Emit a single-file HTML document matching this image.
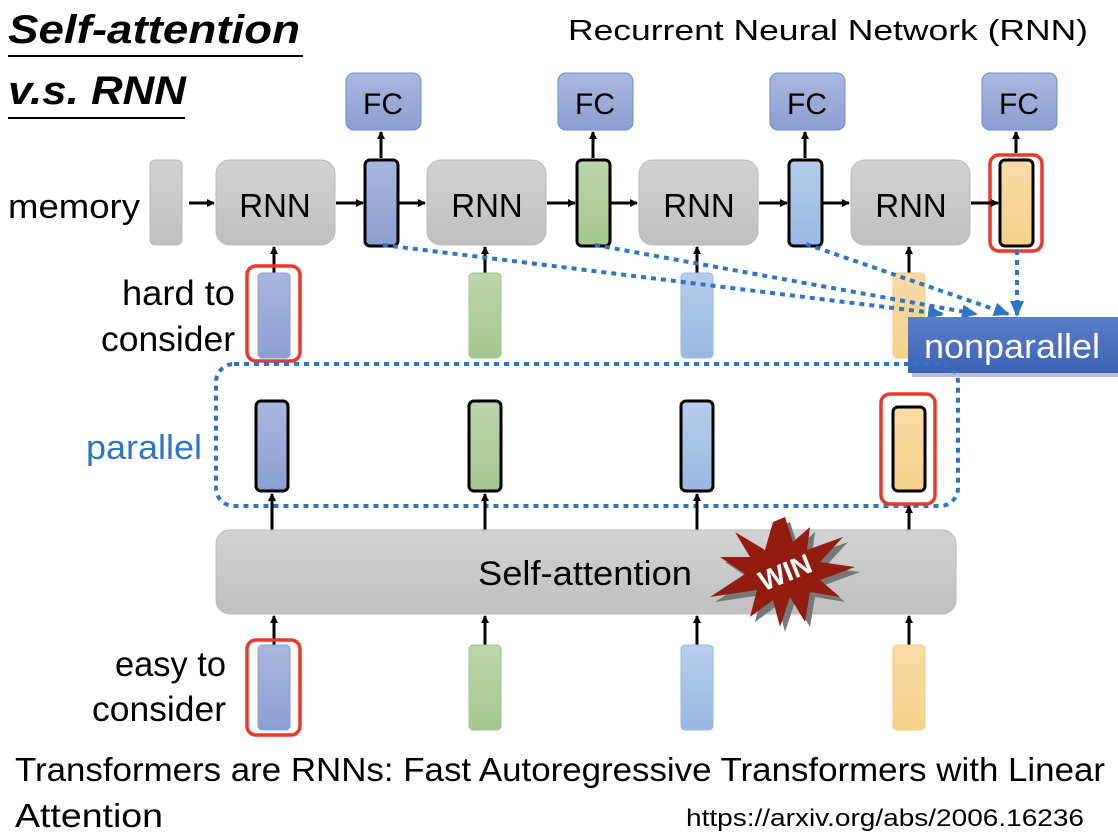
<!DOCTYPE html>
<html><head><meta charset="utf-8"><style>
html,body{margin:0;padding:0;background:#fff;}
svg{display:block;font-family:"Liberation Sans",sans-serif;}
</style></head><body>
<svg width="1118" height="836" viewBox="0 0 1118 836" xmlns="http://www.w3.org/2000/svg">
<defs>
<linearGradient id="gray" x1="0" y1="0" x2="0" y2="1"><stop offset="0" stop-color="#d2d2d2"/><stop offset="1" stop-color="#c0c0c0"/></linearGradient>
<linearGradient id="blue" x1="0" y1="0" x2="0" y2="1"><stop offset="0" stop-color="#a9b7de"/><stop offset="1" stop-color="#8a9fd2"/></linearGradient>
<linearGradient id="green" x1="0" y1="0" x2="0" y2="1"><stop offset="0" stop-color="#bcd6ab"/><stop offset="1" stop-color="#a3c78d"/></linearGradient>
<linearGradient id="lblue" x1="0" y1="0" x2="0" y2="1"><stop offset="0" stop-color="#b6cdea"/><stop offset="1" stop-color="#98b9e2"/></linearGradient>
<linearGradient id="orange" x1="0" y1="0" x2="0" y2="1"><stop offset="0" stop-color="#f8dba6"/><stop offset="1" stop-color="#f6d28a"/></linearGradient>
<linearGradient id="np" x1="0" y1="0" x2="0" y2="1"><stop offset="0" stop-color="#5a7ec8"/><stop offset="1" stop-color="#3d62b4"/></linearGradient>
<marker id="ah" markerWidth="8" markerHeight="8" refX="7" refY="4" orient="auto" markerUnits="userSpaceOnUse"><path d="M0,0 L8,4 L0,8 z" fill="#000"/></marker>
<marker id="bh" markerWidth="16" markerHeight="14" refX="14" refY="7" orient="auto" markerUnits="userSpaceOnUse"><path d="M0,0 L16,7 L0,14 z" fill="#2e75c6"/></marker>
</defs>

<text x="8" y="43" font-size="40" font-weight="bold" font-style="italic" textLength="292" lengthAdjust="spacingAndGlyphs">Self-attention</text>
<line x1="8" y1="56" x2="303" y2="56" stroke="#000" stroke-width="2"/>
<text x="8" y="104" font-size="40" font-weight="bold" font-style="italic" textLength="178" lengthAdjust="spacingAndGlyphs">v.s. RNN</text>
<line x1="8" y1="118" x2="185" y2="118" stroke="#000" stroke-width="2"/>
<text x="568" y="40" font-size="29" textLength="520" lengthAdjust="spacingAndGlyphs">Recurrent Neural Network (RNN)</text>

<g font-size="30" text-anchor="middle">
<rect x="346" y="73" width="75" height="57" rx="8" fill="url(#blue)" stroke="#6e8bd0"/><text x="383" y="114">FC</text>
<rect x="558" y="73" width="75" height="57" rx="8" fill="url(#blue)" stroke="#6e8bd0"/><text x="595" y="114">FC</text>
<rect x="770" y="73" width="75" height="57" rx="8" fill="url(#blue)" stroke="#6e8bd0"/><text x="807" y="114">FC</text>
<rect x="982" y="73" width="75" height="57" rx="8" fill="url(#blue)" stroke="#6e8bd0"/><text x="1019" y="114">FC</text>
</g>

<text x="8" y="218" font-size="34" textLength="132" lengthAdjust="spacingAndGlyphs">memory</text>
<rect x="150" y="160" width="32" height="85" rx="5" fill="url(#gray)" stroke="#bbb"/>

<g font-size="33" text-anchor="middle">
<rect x="216" y="160" width="119" height="85" rx="14" fill="url(#gray)" stroke="#bbb"/><text x="275" y="217">RNN</text>
<rect x="427" y="160" width="119" height="85" rx="14" fill="url(#gray)" stroke="#bbb"/><text x="487" y="217">RNN</text>
<rect x="639" y="160" width="119" height="85" rx="14" fill="url(#gray)" stroke="#bbb"/><text x="699" y="217">RNN</text>
<rect x="851" y="160" width="119" height="85" rx="14" fill="url(#gray)" stroke="#bbb"/><text x="911" y="217">RNN</text>
</g>

<rect x="365" y="160" width="33" height="86" rx="5" fill="url(#blue)" stroke="#000" stroke-width="3"/>
<rect x="577" y="160" width="33" height="86" rx="5" fill="url(#green)" stroke="#000" stroke-width="3"/>
<rect x="789" y="160" width="33" height="86" rx="5" fill="url(#lblue)" stroke="#000" stroke-width="3"/>
<rect x="1000" y="160" width="33" height="86" rx="5" fill="url(#orange)" stroke="#000" stroke-width="3"/>
<rect x="990" y="155" width="52" height="96" rx="9" fill="none" stroke="#e8392a" stroke-width="3.5"/>

<g stroke="#000" stroke-width="3" marker-end="url(#ah)">
<line x1="189" y1="203" x2="214" y2="203"/>
<line x1="336" y1="203" x2="363" y2="203"/>
<line x1="399" y1="203" x2="425" y2="203"/>
<line x1="547" y1="203" x2="575" y2="203"/>
<line x1="611" y1="203" x2="637" y2="203"/>
<line x1="759" y1="203" x2="787" y2="203"/>
<line x1="823" y1="203" x2="849" y2="203"/>
<line x1="971" y1="203" x2="998" y2="203"/>
<line x1="381" y1="158" x2="381" y2="132"/>
<line x1="593" y1="158" x2="593" y2="132"/>
<line x1="805" y1="158" x2="805" y2="132"/>
<line x1="1016" y1="153" x2="1016" y2="132"/>
<line x1="274" y1="273" x2="274" y2="247"/>
<line x1="485" y1="273" x2="485" y2="247"/>
<line x1="697" y1="273" x2="697" y2="247"/>
<line x1="909" y1="273" x2="909" y2="247"/>
</g>

<text x="235" y="305" font-size="35" text-anchor="end" textLength="113" lengthAdjust="spacingAndGlyphs">hard to</text>
<text x="235" y="351" font-size="35" text-anchor="end" textLength="134" lengthAdjust="spacingAndGlyphs">consider</text>
<rect x="258" y="273" width="32" height="85" rx="4" fill="url(#blue)" stroke="#8ea0d6"/>
<rect x="469" y="273" width="32" height="85" rx="4" fill="url(#green)" stroke="#9fc48a"/>
<rect x="681" y="273" width="32" height="85" rx="4" fill="url(#lblue)" stroke="#98b9e2"/>
<rect x="893" y="273" width="32" height="85" rx="4" fill="url(#orange)" stroke="#f2cc82"/>
<rect x="247" y="266" width="53" height="95" rx="9" fill="none" stroke="#e8392a" stroke-width="3.5"/>

<g stroke="#2e75c6" stroke-width="4" stroke-dasharray="5,5" fill="none" marker-end="url(#bh)">
<line x1="383" y1="245" x2="942" y2="314"/>
<line x1="595" y1="245" x2="976" y2="314"/>
<line x1="806" y1="244" x2="1008" y2="314"/>
<line x1="1017" y1="250" x2="1017" y2="315"/>
</g>

<rect x="910" y="319" width="208" height="56" fill="#2a4a90" opacity="0.35" transform="translate(2,2)"/>
<rect x="908" y="317" width="210" height="56" fill="url(#np)"/>
<text x="1012" y="358" font-size="34" fill="#fff" text-anchor="middle" textLength="176" lengthAdjust="spacingAndGlyphs">nonparallel</text>

<text x="202" y="459" font-size="34" fill="#2e75c6" text-anchor="end" textLength="116" lengthAdjust="spacingAndGlyphs">parallel</text>
<rect x="216" y="364" width="742" height="142" rx="18" fill="none" stroke="#2e75c6" stroke-width="4" stroke-dasharray="5,5"/>
<rect x="256" y="401" width="32" height="90" rx="5" fill="url(#blue)" stroke="#000" stroke-width="3"/>
<rect x="469" y="401" width="32" height="90" rx="5" fill="url(#green)" stroke="#000" stroke-width="3"/>
<rect x="681" y="401" width="32" height="90" rx="5" fill="url(#lblue)" stroke="#000" stroke-width="3"/>
<rect x="893" y="407" width="32" height="84" rx="5" fill="url(#orange)" stroke="#000" stroke-width="3"/>
<rect x="881" y="394" width="54" height="110" rx="9" fill="none" stroke="#e8392a" stroke-width="3.5"/>

<g stroke="#000" stroke-width="3" marker-end="url(#ah)">
<line x1="272" y1="530" x2="272" y2="494"/>
<line x1="485" y1="530" x2="485" y2="494"/>
<line x1="697" y1="530" x2="697" y2="494"/>
<line x1="909" y1="530" x2="909" y2="506"/>
<line x1="274" y1="645" x2="274" y2="616"/>
<line x1="485" y1="645" x2="485" y2="616"/>
<line x1="697" y1="645" x2="697" y2="616"/>
<line x1="909" y1="645" x2="909" y2="616"/>
</g>

<rect x="216" y="530" width="740" height="84" rx="14" fill="url(#gray)" stroke="#bbb"/>
<text x="585" y="585" font-size="34" text-anchor="middle" textLength="214" lengthAdjust="spacingAndGlyphs">Self-attention</text>
<g transform="translate(785,572)">
<polygon transform="translate(5,5)" fill="#777" points="0,-55 8,-30 25,-45 22,-22 58,-35 35,-10 70,-5 35,8 55,25 25,20 20,50 5,25 -5,55 -12,28 -35,45 -28,18 -75,25 -40,2 -65,-15 -35,-15 -50,-40 -20,-22 -12,-50"/>
<polygon fill="#931c10" points="0,-55 8,-30 25,-45 22,-22 58,-35 35,-10 70,-5 35,8 55,25 25,20 20,50 5,25 -5,55 -12,28 -35,45 -28,18 -75,25 -40,2 -65,-15 -35,-15 -50,-40 -20,-22 -12,-50"/>
<text x="0" y="10" font-size="28" font-weight="bold" fill="#fff" text-anchor="middle" transform="rotate(-22)">WIN</text>
</g>

<text x="226" y="676" font-size="35" text-anchor="end" textLength="111" lengthAdjust="spacingAndGlyphs">easy to</text>
<text x="226" y="721" font-size="35" text-anchor="end" textLength="134" lengthAdjust="spacingAndGlyphs">consider</text>
<rect x="258" y="645" width="32" height="85" rx="4" fill="url(#blue)" stroke="#8ea0d6"/>
<rect x="469" y="645" width="32" height="85" rx="4" fill="url(#green)" stroke="#9fc48a"/>
<rect x="681" y="645" width="32" height="85" rx="4" fill="url(#lblue)" stroke="#98b9e2"/>
<rect x="893" y="645" width="32" height="85" rx="4" fill="url(#orange)" stroke="#f2cc82"/>
<rect x="247" y="640" width="53" height="95" rx="9" fill="none" stroke="#e8392a" stroke-width="3.5"/>

<text x="15" y="781" font-size="33" textLength="1090" lengthAdjust="spacingAndGlyphs">Transformers are RNNs: Fast Autoregressive Transformers with Linear</text>
<text x="15" y="827" font-size="33" textLength="148" lengthAdjust="spacingAndGlyphs">Attention</text>
<text x="686" y="826" font-size="24" textLength="398" lengthAdjust="spacingAndGlyphs">https://arxiv.org/abs/2006.16236</text>
</svg>
</body></html>
